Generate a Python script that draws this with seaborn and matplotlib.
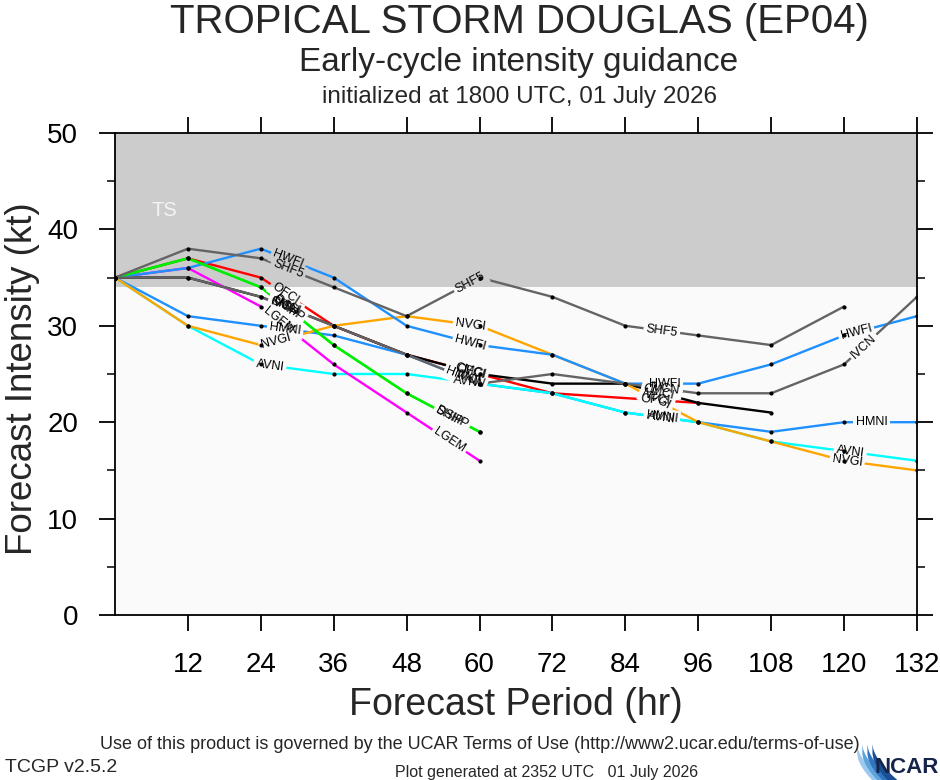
import numpy as np
import pandas as pd
import seaborn as sns
import matplotlib
matplotlib.use('Agg')
import matplotlib.pyplot as plt
from matplotlib.patches import Rectangle

# forecast hours and model intensities (kt)
hours = [0, 12, 24, 36, 48, 60, 72, 84, 96, 108, 120, 132]
ofci_hours = [0, 12, 24, 36, 48, 60, 72, 96]

hwfi = [35, 36, 38, 35, 30, 28, 27, 24, 24, 26, 29, 31]
shf5 = [35, 38, 37, 34, 31, 35, 33, 30, 29, 28, 32]
ofci = [35, 37, 35, 30, 27, 25, 23, 22]
cmci = [35, 35, 33, 30, 27, 25, 24, 24, 22, 21]
ivcn = [35, 35, 33, 30, 27, 24, 25, 24, 23, 23, 26, 33]
ship = [35, 37, 34, 28, 23, 19]
dshp = [35, 37, 34, 28, 23, 19]
lgem = [35, 36, 32, 26, 21, 16]
hmni = [35, 31, 30, 29, 27, 24, 23, 21, 20, 19, 20, 20]
avni = [35, 30, 26, 25, 25, 24, 23, 21, 20, 18, 17, 16]
nvgi = [35, 30, 28, 30, 31, 30, 27, 24, 20, 18, 16, 15]

x_ticks = [12, 24, 36, 48, 60, 72, 84, 96, 108, 120, 132]
y_ticks = [0, 10, 20, 30, 40, 50]
y_minor = [5, 15, 25, 35, 45]
ts_threshold = 34

series = {
    'OFCI': (ofci_hours, ofci),
    'CMCI': (hours[:len(cmci)], cmci),
    'HMNI': (hours, hmni),
    'AVNI': (hours, avni),
    'NVGI': (hours, nvgi),
    'LGEM': (hours[:len(lgem)], lgem),
    'HWFI': (hours, hwfi),
    'SHIP': (hours[:len(ship)], ship),
    'DSHP': (hours[:len(dshp)], dshp),
    'IVCN': (hours, ivcn),
    'SHF5': (hours[:len(shf5)], shf5),
}

colors = {
    'OFCI': '#FF0000', 'CMCI': '#000000', 'HMNI': '#1E90FF', 'AVNI': '#00FFFF',
    'NVGI': '#FFA500', 'LGEM': '#FF00FF', 'HWFI': '#1E90FF', 'SHIP': '#00EE00',
    'DSHP': '#00EE00', 'IVCN': '#646464', 'SHF5': '#646464',
}

# where the line labels sit (forecast hour along each line)
label_at = {
    'HWFI': [28.5, 58.5, 90.5, 122], 'SHF5': [28.5, 58.5, 90],
    'OFCI': [28, 58.5, 89], 'CMCI': [28, 58.5, 89.5],
    'IVCN': [28, 58.5, 90.5, 123.2], 'SHIP': [28, 55], 'DSHP': [28.5, 55.5],
    'LGEM': [27, 55], 'HMNI': [28, 57, 90, 124.5],
    'NVGI': [26.5, 58.5, 89, 120.5], 'AVNI': [25.5, 58, 90, 121],
}

rows = []
for name, (h, v) in series.items():
    for hh, vv in zip(h, v):
        rows.append((name, hh, vv))
df = pd.DataFrame(rows, columns=['model', 'hour', 'kt'])

sns.set_style('ticks')
plt.rcParams['font.family'] = ['Liberation Sans', 'DejaVu Sans']

fig = plt.figure(figsize=(9.4, 7.8), dpi=100)
ax = fig.add_axes([115 / 940, 1 - 615 / 780, 802 / 940, 482 / 780])
ax.set_xlim(0, 132)
ax.set_ylim(0, 50)

plot_bg = '#FAFAFA'
band_bg = '#CCCCCC'
ax.set_facecolor(plot_bg)
ax.axhspan(ts_threshold, 50, color=band_bg, zorder=0, lw=0)
ax.text(8.2, 42, 'TS', color='#F4F4F4', fontsize=14.5, ha='center', va='center')

sns.lineplot(data=df, x='hour', y='kt', hue='model', hue_order=list(series.keys()),
             palette=colors, units='model', estimator=None, sort=False,
             linewidth=1.7, legend=False, ax=ax, zorder=2)
sns.scatterplot(data=df, x='hour', y='kt', color='black', s=9, linewidth=0,
                legend=False, ax=ax, zorder=4)

# line labels, rotated along the line, with a gap cut in the line
upper = Rectangle((0, ts_threshold), 132, 50 - ts_threshold, transform=ax.transData)
lower = Rectangle((0, 0), 132, ts_threshold, transform=ax.transData)
for name, at in label_at.items():
    h_arr = np.asarray(series[name][0], float)
    v_arr = np.asarray(series[name][1], float)
    for h in at:
        y = np.interp(h, h_arr, v_arr)
        i = min(max(np.searchsorted(h_arr, h) - 1, 0), len(h_arr) - 2)
        p0 = ax.transData.transform((h_arr[i], v_arr[i]))
        p1 = ax.transData.transform((h_arr[i + 1], v_arr[i + 1]))
        ang = np.degrees(np.arctan2(p1[1] - p0[1], p1[0] - p0[0]))
        kw = dict(rotation=ang, rotation_mode='anchor', ha='center', va='center', fontsize=9)
        for bg, clip in ((band_bg, upper), (plot_bg, lower)):
            t = ax.text(h, y, name, color='none', zorder=3, clip_on=True,
                        bbox=dict(boxstyle='square,pad=0.2', fc=bg, ec='none'), **kw)
            t.set_clip_path(clip)
        ax.text(h, y, name, color='black', zorder=5, **kw)

ax.set_xticks(x_ticks)
ax.set_yticks(y_ticks)
ax.set_yticks(y_minor, minor=True)
ax.tick_params(which='major', direction='out', length=11.5, width=1.3,
               top=True, right=True, labelsize=20, pad=15, colors='black')
ax.tick_params(which='minor', direction='out', length=5.8, width=1.3,
               top=False, right=True, left=True)
for sp in ax.spines.values():
    sp.set_linewidth(1.3)
    sp.set_color('black')
    sp.set_visible(True)

ax.set_xlabel('Forecast Period (hr)', fontsize=27)
ax.set_ylabel('Forecast Intensity (kt)', fontsize=26.5)
ax.xaxis.set_label_coords(0.5, -0.15)
ax.yaxis.set_label_coords(-0.094, 0.49)

fig.text(519 / 940, 1 - 33 / 780, 'TROPICAL STORM DOUGLAS (EP04)', fontsize=29,
         ha='center', va='baseline')
fig.text(519 / 940, 1 - 71 / 780, 'Early-cycle intensity guidance', fontsize=24,
         ha='center', va='baseline')
fig.text(519 / 940, 1 - 103 / 780, 'initialized at 1800 UTC, 01 July 2026', fontsize=17.5,
         ha='center', va='baseline')

fig.text(480 / 940, 1 - 749 / 780,
         'Use of this product is governed by the UCAR Terms of Use (http://www2.ucar.edu/terms-of-use)',
         fontsize=13, ha='center', va='baseline')
fig.text(5 / 940, 1 - 772 / 780, 'TCGP v2.5.2', fontsize=14, ha='left', va='baseline')
fig.text(547 / 940, 1 - 777 / 780, 'Plot generated at 2352 UTC   01 July 2026',
         fontsize=11.5, ha='center', va='baseline')

# NCAR logo
lax = fig.add_axes([855 / 940, 0, 85 / 940, 38 / 780])
lax.set_xlim(0, 1)
lax.set_ylim(0, 1)
lax.axis('off')
for k, c in enumerate(['#9ec9ee', '#5fa3dd', '#2f75c0', '#1a4f96']):
    t = np.linspace(0, 1, 30)
    xs = 0.02 + 0.3 * t + 0.06 * k
    top = 0.95 - 0.95 * t ** 0.6
    lax.fill_between(xs, top - 0.25, top, color=c, lw=0)
lax.text(0.99, 0.05, 'NCAR', fontsize=16, weight='bold',
         color='#16244a', ha='right', va='bottom')

fig.savefig('out.png', dpi=100)
